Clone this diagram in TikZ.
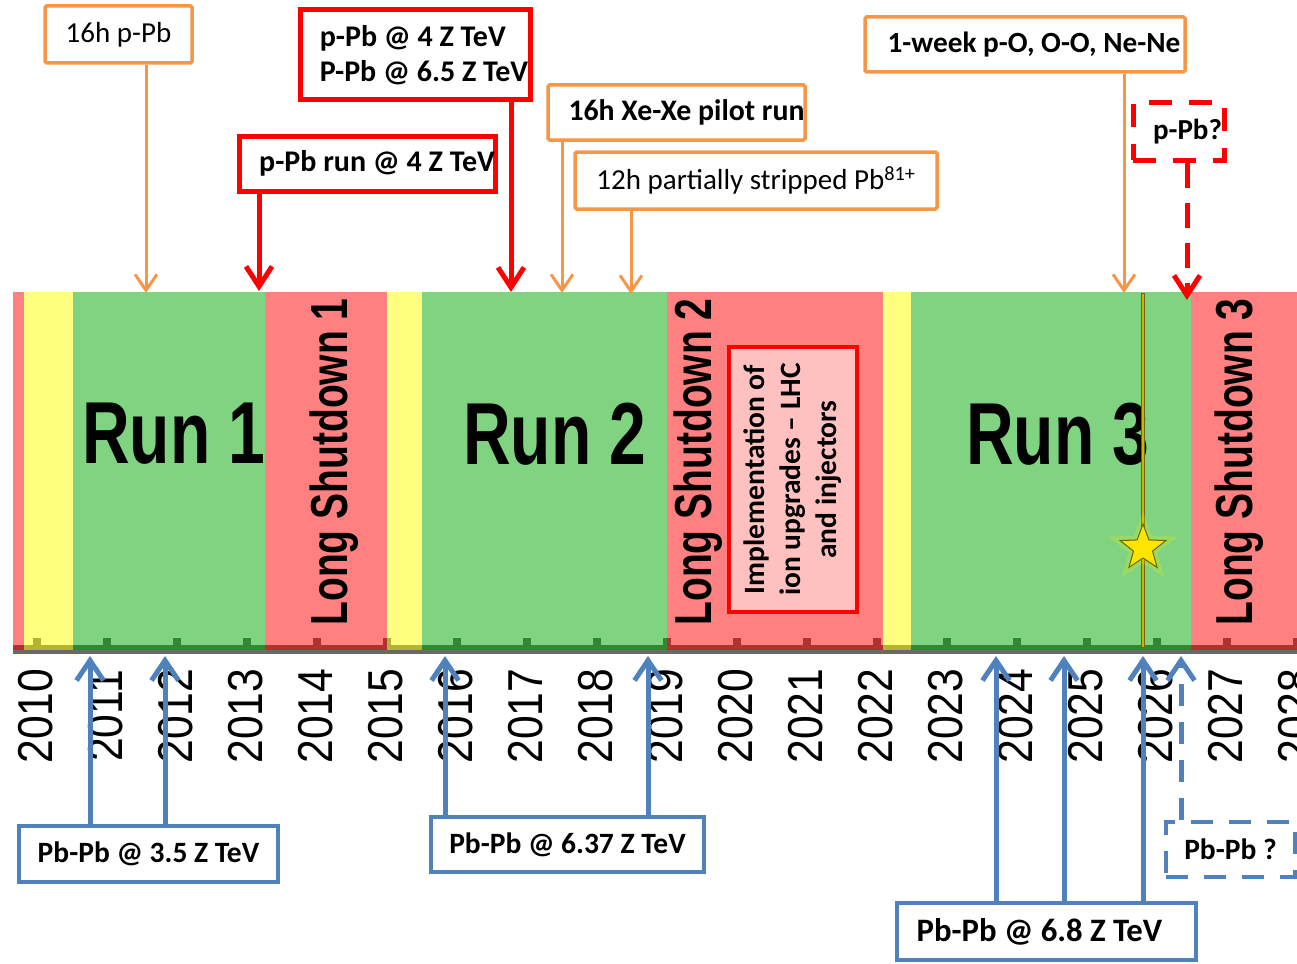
\documentclass[tikz,border=0pt]{standalone}
\usepackage{fontspec}
\setmainfont{Carlito}
\newfontfamily\arialfont{Liberation Sans}
\usepackage{graphicx}
\usetikzlibrary{arrows.meta, shapes.geometric}

\definecolor{runfill}{RGB}{128,211,128}
\definecolor{rundk}{RGB}{50,135,50}
\definecolor{lsfill}{RGB}{255,128,128}
\definecolor{lsdk}{RGB}{178,50,50}
\definecolor{bcfill}{RGB}{255,255,128}
\definecolor{bcdk}{RGB}{180,180,50}
\definecolor{axisgray}{RGB}{105,105,105}
\definecolor{oline}{RGB}{247,150,70}
\definecolor{bline}{RGB}{79,129,189}
\definecolor{rline}{RGB}{255,0,0}
\definecolor{implfill}{RGB}{255,192,192}
\definecolor{starfill}{RGB}{255,228,0}
\definecolor{stardk}{RGB}{110,100,0}

\newcommand{\narrow}[2]{\scalebox{#1}[1]{#2}}

\begin{document}
\begin{tikzpicture}[x=1pt, y=-1pt, line join=miter,
	obox/.style={draw=oline, line width=3.5pt, fill=white, rounded corners=1.5pt, inner sep=0pt,
		font=\fontsize{29}{35}\selectfont},
	rbox/.style={draw=rline, line width=5pt, fill=white, inner sep=0pt,
		font=\fontsize{29}{35}\selectfont\bfseries},
	bbox/.style={draw=bline, line width=4.5pt, fill=white, inner sep=0pt,
		font=\fontsize{29.5}{35}\selectfont\bfseries},
	oarr/.style={draw=oline, line width=3pt, -{Straight Barb[length=16pt, width=22pt]}},
	rarr/.style={draw=rline, line width=5pt, -{Straight Barb[length=20pt, width=26pt]}},
	barr/.style={draw=bline, line width=5pt, -{Straight Barb[length=20pt, width=27pt]}},
	runtext/.style={inner sep=0pt, font=\arialfont\bfseries\fontsize{88}{90}\selectfont},
	lstext/.style={inner sep=0pt, rotate=90, font=\arialfont\bfseries\fontsize{52}{54}\selectfont},
	yeartext/.style={inner sep=0pt, rotate=90, font=\arialfont\fontsize{49}{50}\selectfont}]
\useasboundingbox (0,0) rectangle (1297,963);

%========================
% timeline band
%========================
\foreach \xa/\xb/\cf/\cd in {13/24/lsfill/lsdk, 24/73/bcfill/bcdk, 73/265/runfill/rundk,
	265/387/lsfill/lsdk, 387/422/bcfill/bcdk, 422/667/runfill/rundk, 667/883/lsfill/lsdk,
	883/911/bcfill/bcdk, 911/1191/runfill/rundk, 1191/1297/lsfill/lsdk} {
	\fill[\cf] (\xa,292) rectangle (\xb,650);
	\begin{scope}
		\clip (\xa,630) rectangle (\xb,650);
		\fill[\cd] (\xa,645) rectangle (\xb,650);
		% year ticks
		\foreach \k in {0,...,18}
			\fill[\cd] ({33+70*\k},638) rectangle ++(8,8);
	\end{scope}
}
\fill[axisgray] (13,650) rectangle (1297,654);

% years
\foreach \k in {0,...,18} {
	\pgfmathtruncatemacro{\yr}{2010+\k}
	\node[yeartext] (y\yr) at ({36+70*\k},716) {\narrow{0.87}{\yr}};
}

% runs and shutdowns
\node[runtext] (run1) at (174,434) {\narrow{0.75}{Run 1}};
\node[runtext] (run2) at (555,434) {\narrow{0.75}{Run 2}};
\node[runtext] (run3) at (1058,434) {\narrow{0.75}{Run 3}};
\node[lstext] (ls1) at (334,462) {\narrow{0.75}{Long Shutdown 1}};
\node[lstext] (ls2) at (698,462) {\narrow{0.75}{Long Shutdown 2}};
\node[lstext] (ls3) at (1239,462) {\narrow{0.75}{Long Shutdown 3}};

\node[draw=rline, fill=implfill, line width=3.5pt, rotate=90, inner sep=0pt,
	minimum width=265pt, minimum height=128pt, align=center,
	font=\fontsize{29.5}{36}\selectfont\bfseries] (impl) at (793,479.5)
	{Implementation of\\ion upgrades -- LHC\\and injectors};

% end of Run 3 marker
\draw[line width=4.5pt, stardk] (1143,293) -- (1143,648);
\draw[line width=1.6pt, starfill!80!black] (1143,294) -- (1143,647);
\node[star, star points=5, star point ratio=2.4, draw=yellow, line width=8pt, opacity=.2,
	minimum size=50pt, inner sep=0pt] (glow) at (1143,548) {};
\node[star, star points=5, star point ratio=2.4, fill=starfill, draw=stardk, line width=1pt,
	minimum size=48pt, inner sep=0pt] (goal) at (1143,548) {};

%========================
% top: p-Pb and light ions
%========================
\node[obox, minimum width=147pt, minimum height=57pt] (p16) at (118.5,34.5) {16h p-Pb};
\node[rbox, minimum width=230pt, minimum height=90pt, align=left,
	font=\fontsize{30}{35}\selectfont\bfseries] (pPb2) at (415,55)
	{\hspace*{18pt}p-Pb @ 4 Z TeV\\\hspace*{18pt}P-Pb @ 6.5 Z TeV};
\node[rbox, minimum width=256pt, minimum height=55pt, font=\fontsize{30}{35}\selectfont\bfseries]
	(pPbrun) at (367,163.5) {\hspace*{20pt}p-Pb run @ 4 Z TeV};
\node[obox, minimum width=257pt, minimum height=55pt, font=\fontsize{29.8}{35}\selectfont\bfseries]
	(xexe) at (676.5,112.5) {\hspace*{20pt}16h Xe-Xe pilot run};
\node[obox, minimum width=362pt, minimum height=57pt] (pb81) at (756,180.5)
	{12h partially stripped Pb\textsuperscript{81+}};
\node[obox, minimum width=320pt, minimum height=55pt, font=\fontsize{29.3}{35}\selectfont\bfseries]
	(oxy) at (1025,44.5) {\hspace*{18pt}1-week p-O, O-O, Ne-Ne};
\node[rbox, dash pattern=on 23pt off 17pt, minimum width=91pt, minimum height=57pt]
	(pPbq) at (1178.5,131.5) {\hspace*{18pt}p-Pb?};

\coordinate (t16) at (146,293);
\coordinate (trun) at (259,291);
\coordinate (t2) at (511,292);
\coordinate (txe) at (562,293);
\coordinate (t81) at (631,294);
\coordinate (toxy) at (1124,293);
\coordinate (tq) at (1187,300);

\draw[oarr] (p16.south -| t16) -- (t16);
\draw[rarr] (pPbrun.south -| trun) -- (trun);
\draw[rarr] (pPb2.south -| t2) -- (t2);
\draw[oarr] (xexe.south -| txe) -- (txe);
\draw[oarr] (pb81.south -| t81) -- (t81);
\draw[oarr] (oxy.south -| toxy) -- (toxy);
\draw[rarr, dash pattern=on 25pt off 15pt] (pPbq.south -| tq) -- (tq);

%========================
% bottom: Pb-Pb runs
%========================
\node[bbox, minimum width=259pt, minimum height=56pt] (pb35) at (148.5,854) {Pb-Pb @ 3.5 Z TeV};
\node[bbox, minimum width=273pt, minimum height=55pt] (pb637) at (567.5,844.5) {Pb-Pb @ 6.37 Z TeV};
\node[bbox, minimum width=299pt, minimum height=57pt, font=\fontsize{32.7}{35}\selectfont\bfseries]
	(pb68) at (1046.5,931.5) {Pb-Pb @ 6.8 Z TeV\hspace*{14pt}};
\node[bbox, dash pattern=on 22pt off 16pt, minimum width=129pt, minimum height=55pt]
	(pbq) at (1230.5,849.5) {Pb-Pb ?};

\foreach \n/\x in {pb35/90, pb35/165, pb637/445, pb637/648, pb68/996, pb68/1064, pb68/1143} {
	\coordinate (b\x) at (\x,656);
	\draw[barr] (\n.north -| b\x) -- (b\x);
}
\coordinate (bq) at (1181,656);
\draw[barr, dash pattern=on 22pt off 16pt] (pbq.north -| bq) -- (bq);
\end{tikzpicture}
\end{document}
